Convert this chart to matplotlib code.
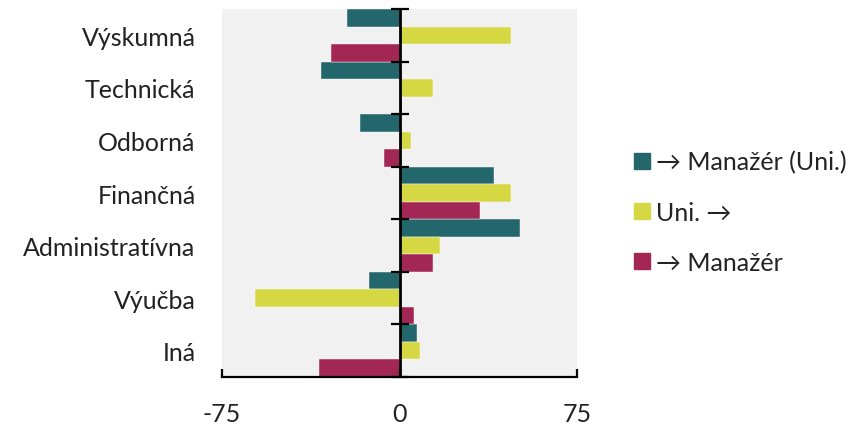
import numpy as np
import matplotlib
matplotlib.use("Agg")
import matplotlib.pyplot as plt
from matplotlib.lines import Line2D

plt.rcParams['font.family'] = ['Lato', 'DejaVu Sans']

kategorie = ['Výskumná', 'Technická', 'Odborná', 'Finančná',
             'Administratívna', 'Výučba', 'Iná']
manazer_uni = [-22, -33, -16.5, 40, 51, -13, 7.5]
uni = [47, 14, 5, 47, 17, -61, 8.5]
manazer = [-29, 1, -6.5, 34, 14, 6, -34]
nazvy = ['→ Manažér (Uni.)', 'Uni. →', '→ Manažér']
farby = ['#23666b', '#d5d843', '#a32754']

fig = plt.figure(figsize=(8.61, 4.27), dpi=100)
ax = fig.add_axes([222/861, 49/427, 355/861, 368/427])
ax.set_facecolor('#f1f1f1')

y = np.arange(len(kategorie))
h = 1/3
for k, (hodnoty, farba) in enumerate(zip([manazer_uni, uni, manazer], farby)):
    ax.barh(y + (k - 1) * h, hodnoty, height=h, color=farba, edgecolor='white', linewidth=0.3)

ax.set_xlim(-75, 75)
ax.set_ylim(len(kategorie) - 0.5, -0.5)

# os v nule so zarazkami medzi kategoriami
ax.axvline(0, color='black', lw=2, zorder=5)
hranice = np.arange(len(kategorie) + 1) - 0.5
ax.plot(np.zeros_like(hranice), hranice, ls='', marker='_', ms=13, mew=1.6,
        color='black', zorder=6, clip_on=False)

for s in ['top', 'right', 'left']:
    ax.spines[s].set_visible(False)
ax.spines['bottom'].set_linewidth(1.6)
ax.spines['bottom'].set_color('black')

ax.set_xticks([-75, 0, 75])
ax.set_xticklabels(['-75', '0', '75'])
ax.tick_params(axis='x', direction='in', length=6, width=1.6, pad=18, labelsize=18,
               labelcolor='#222222')
ax.set_yticks(y)
ax.set_yticklabels(kategorie)
ax.tick_params(axis='y', length=0, pad=19, labelsize=18, labelcolor='#222222')

handles = [Line2D([], [], ls='', marker='s', ms=11.5, color=f) for f in farby]
leg = fig.legend(handles, nazvy, loc='center left', bbox_to_anchor=(631/861, 214/427),
                 frameon=False, fontsize=18, handletextpad=0.17, handlelength=0.85,
                 labelspacing=1.08, borderpad=0, borderaxespad=0)
for t in leg.get_texts():
    t.set_color('#222222')

fig.savefig('out.png', dpi=100)
